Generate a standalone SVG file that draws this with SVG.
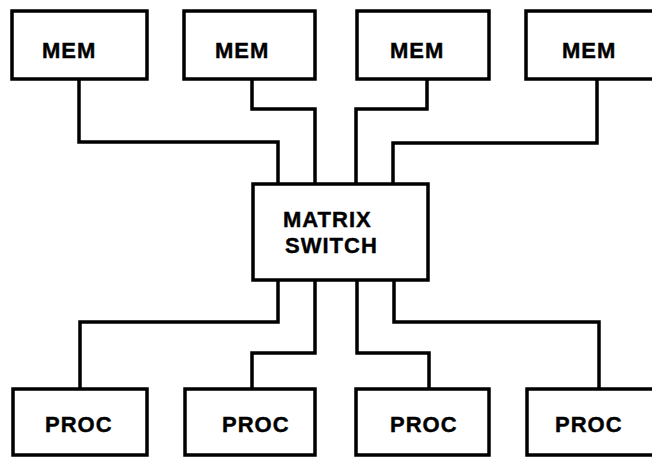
<svg xmlns="http://www.w3.org/2000/svg" width="652" height="457" viewBox="0 0 652 457">
<style>
.box{fill:#fff;stroke:#000;stroke-width:3.5}
.wire{fill:none;stroke:#000;stroke-width:3.5;stroke-linejoin:miter}
.lbl{font-family:"Liberation Sans",Arial,sans-serif;font-weight:bold;font-size:22px;letter-spacing:1px;fill:#000;stroke:#000;stroke-width:0.4}
</style>
<rect width="652" height="457" fill="#fff"/>
<g id="connectors">
<polyline class="wire" points="79,79 79,142 278,142 278,184"/>
<polyline class="wire" points="252,79 252,109 315,109 315,184"/>
<polyline class="wire" points="427,79 427,109 356,109 356,184"/>
<polyline class="wire" points="597,79 597,143 393,143 393,184"/>
<polyline class="wire" points="80,389 80,322 278,322 278,280"/>
<polyline class="wire" points="252,389 252,353 315,353 315,280"/>
<polyline class="wire" points="429,389 429,353 357,353 357,280"/>
<polyline class="wire" points="599,389 599,322 394,322 394,280"/>
</g>
<g id="mem1"><rect class="box" x="12" y="11" width="135" height="68"/><text class="lbl" x="42" y="58">MEM</text></g>
<g id="mem2"><rect class="box" x="184" y="11" width="131" height="68"/><text class="lbl" x="215" y="58">MEM</text></g>
<g id="mem3"><rect class="box" x="357" y="11" width="132" height="68"/><text class="lbl" x="390" y="58">MEM</text></g>
<g id="mem4"><rect class="box" x="526" y="11" width="140" height="68"/><text class="lbl" x="562" y="58">MEM</text></g>
<g id="switch"><rect class="box" x="253" y="184" width="175" height="96"/><text class="lbl" x="283" y="227">MATRIX</text><text class="lbl" x="285" y="253">SWITCH</text></g>
<g id="proc1"><rect class="box" x="13" y="389" width="134" height="66"/><text class="lbl" x="45" y="432">PROC</text></g>
<g id="proc2"><rect class="box" x="185" y="389" width="130" height="66"/><text class="lbl" x="222" y="432">PROC</text></g>
<g id="proc3"><rect class="box" x="356" y="389" width="133" height="66"/><text class="lbl" x="390" y="432">PROC</text></g>
<g id="proc4"><rect class="box" x="527" y="389" width="140" height="66"/><text class="lbl" x="555" y="432">PROC</text></g>
</svg>
